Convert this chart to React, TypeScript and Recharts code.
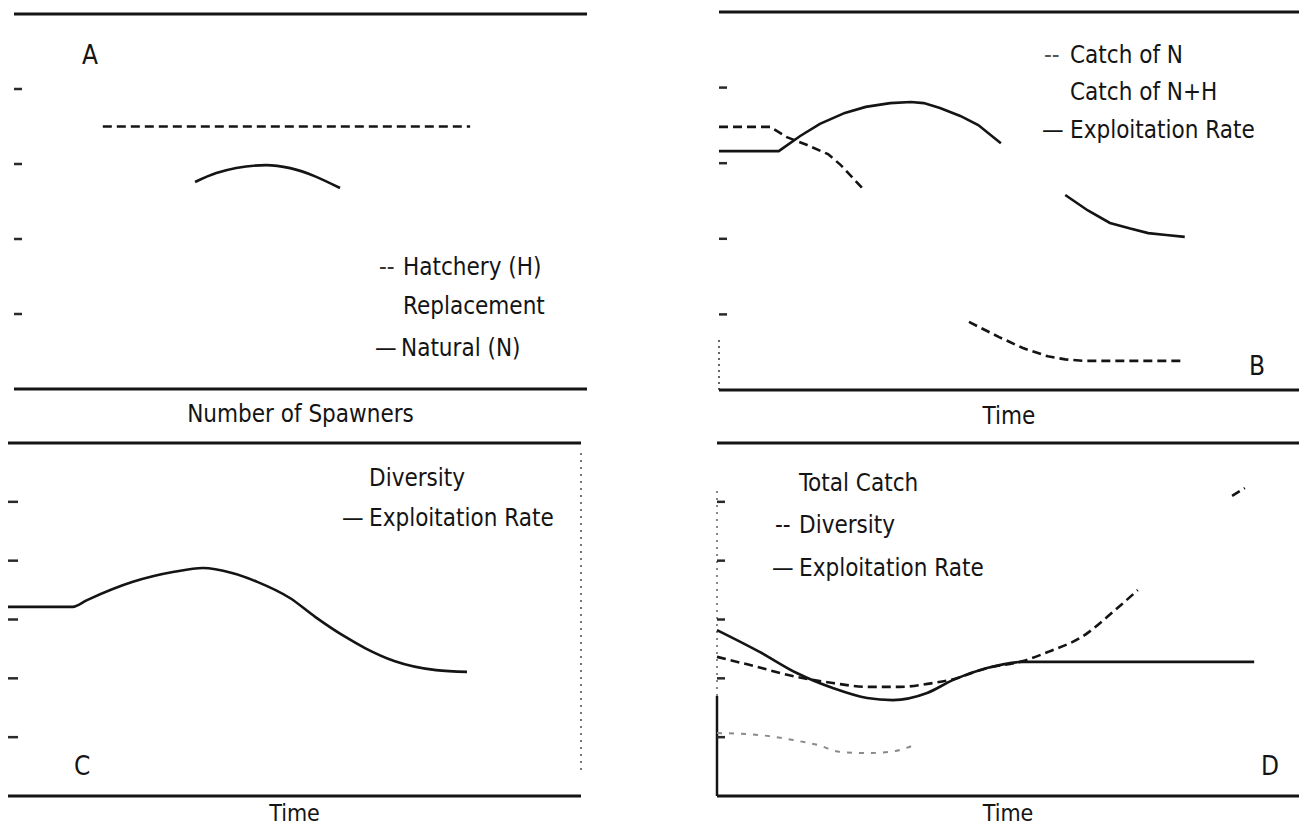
import React from 'react';
import { LineChart, Line, XAxis, YAxis, ReferenceLine } from 'recharts';

const FONT = "'DejaVu Sans Condensed', 'DejaVu Sans', sans-serif";
const INK = '#141414';

// ---------- Panel A : replacement vs number of spawners ----------
const aHatchery = [{ x: 15.5, y: 70 }, { x: 79.6, y: 70 }];
const aNatural = [
  { x: 31.6, y: 55.2 }, { x: 35.3, y: 57.6 }, { x: 44.0, y: 59.7 },
  { x: 48.2, y: 58.9 }, { x: 56.9, y: 53.6 },
];
const aTicks = [20, 40, 60, 80];

// ---------- Panel B : catch & exploitation rate over time ----------
const bCatchN = [
  { x: 0, y: 69.6 }, { x: 8.8, y: 69.6 }, { x: 11.7, y: 66.9 }, { x: 15.2, y: 64.8 },
  { x: 18.8, y: 62.4 }, { x: 21.0, y: 59.5 }, { x: 25.0, y: 52.9 }, { x: 35, y: null },
  { x: 43.1, y: 18.0 }, { x: 48.3, y: 14.0 }, { x: 52.4, y: 11.1 }, { x: 56.7, y: 8.9 },
  { x: 59.7, y: 8.1 }, { x: 63.1, y: 7.7 }, { x: 79.7, y: 7.7 },
];
const bExploit = [
  { x: 0, y: 63.2 }, { x: 10.3, y: 63.2 }, { x: 14.0, y: 67.2 }, { x: 17.4, y: 70.4 },
  { x: 21.7, y: 73.3 }, { x: 25.3, y: 74.9 }, { x: 29.5, y: 75.9 }, { x: 33.1, y: 76.2 },
  { x: 35.3, y: 75.9 }, { x: 38.1, y: 74.6 }, { x: 41.6, y: 72.5 }, { x: 44.7, y: 70.1 },
  { x: 48.6, y: 65.3 }, { x: 53, y: null }, { x: 59.7, y: 51.6 }, { x: 63.6, y: 47.5 },
  { x: 67.4, y: 44.2 }, { x: 70.9, y: 42.7 }, { x: 74.0, y: 41.5 }, { x: 77.1, y: 41.0 },
  { x: 80.3, y: 40.5 },
];
const bTicks = [20, 40, 60, 80];

// ---------- Panel C : diversity / exploitation rate over time ----------
const cExploit = [
  { x: 0, y: 64.3 }, { x: 11.3, y: 64.3 }, { x: 13.8, y: 66.6 }, { x: 21.8, y: 72.8 },
  { x: 29.0, y: 76.2 }, { x: 34.0, y: 77.5 }, { x: 39.1, y: 75.8 }, { x: 43.5, y: 72.8 },
  { x: 49.2, y: 67.3 }, { x: 53.6, y: 60.9 }, { x: 58.6, y: 54.4 }, { x: 62.3, y: 50.3 },
  { x: 67.4, y: 45.9 }, { x: 74.7, y: 42.8 }, { x: 80.1, y: 42.2 },
];
const cTicks = [20, 40, 60, 80, 100];

// ---------- Panel D : total catch, diversity, exploitation rate ----------
const dExploit = [
  { x: 0, y: 56.4 }, { x: 7.4, y: 48.9 }, { x: 13.7, y: 41.8 }, { x: 19.9, y: 36.7 },
  { x: 25.8, y: 33.3 }, { x: 30.2, y: 32.6 }, { x: 36.1, y: 35.0 }, { x: 40.5, y: 39.4 },
  { x: 46.4, y: 43.5 }, { x: 52.6, y: 45.6 }, { x: 92.3, y: 45.6 },
];
const dDiversity = [
  { x: 0, y: 47.3 }, { x: 5.7, y: 44.5 }, { x: 13.7, y: 40.5 }, { x: 19.9, y: 38.4 },
  { x: 25.8, y: 37.1 }, { x: 31.4, y: 37.1 }, { x: 37.1, y: 38.4 }, { x: 40.0, y: 39.4 },
  { x: 46.4, y: 43.5 }, { x: 52.6, y: 45.9 }, { x: 56.9, y: 49.0 }, { x: 62.7, y: 54.1 },
  { x: 68.4, y: 63.2 }, { x: 72.3, y: 70.0 }, { x: 80, y: null },
  { x: 88.5, y: 102.0 }, { x: 90.7, y: 104.7 },
];
const dTotalCatch = [
  { x: 0, y: 21.4 }, { x: 7.4, y: 20.7 }, { x: 13.1, y: 19.0 }, { x: 17.4, y: 17.3 },
  { x: 21.1, y: 15.0 }, { x: 25.8, y: 14.6 }, { x: 29.7, y: 15.0 }, { x: 34.4, y: 17.7 },
];
const dTicks = [20, 40, 60, 80, 100];

// ---------- texts ----------
const panelLetters = ['A', 'B', 'C', 'D'];
const axisTitles = ['Number of Spawners', 'Time', 'Time', 'Time'];
const aLegend = ['Hatchery (H)', 'Replacement', 'Natural (N)'];
const bLegend = ['Catch of N', 'Catch of N+H', 'Exploitation Rate'];
const cLegend = ['Diversity', 'Exploitation Rate'];
const dLegend = ['Total Catch', 'Diversity', 'Exploitation Rate'];

const ruleLine = { stroke: INK, strokeWidth: 3 };
const solid = { stroke: INK, strokeWidth: 2.6, dot: false, isAnimationActive: false, type: 'monotone' as const, connectNulls: false };
const dashed = { ...solid, strokeDasharray: '9 5' };

function T({ x, yc, children, size = 24, color = INK }: { x: number; yc: number; children: React.ReactNode; size?: number; color?: string }) {
  return (
    <div
      style={{
        position: 'absolute', left: x, top: yc - size / 2, fontSize: size, lineHeight: `${size}px`,
        fontFamily: FONT, fontStretch: 'condensed', whiteSpace: 'nowrap', color,
      }}
    >
      {children}
    </div>
  );
}

function makeTickMark(len: number) {
  return (props: any) => {
    const { x, y } = props;
    return <line x1={x - len} x2={x} y1={y} y2={y} stroke="#2a2a2a" strokeWidth={2.5} />;
  };
}

function Panel({
  left, top, width, height, margin, yMax, yTicks, title, labelOffset, labelSize = 24, tickSize = 8, children,
}: {
  left: number; top: number; width: number; height: number;
  margin: { top: number; right: number; bottom: number; left: number };
  yMax: number; yTicks: number[]; title: string; labelOffset: number; labelSize?: number; tickSize?: number;
  children: React.ReactNode;
}) {
  return (
    <div style={{ position: 'absolute', left, top }}>
      <LineChart width={width} height={height} margin={margin}>
        <XAxis
          dataKey="x" type="number" domain={[0, 100]} height={10}
          tick={false} tickLine={false} axisLine={ruleLine}
          label={{ value: title, position: 'bottom', offset: labelOffset, style: { fontFamily: FONT, fontStretch: 'condensed', fontSize: labelSize, fill: INK } }}
        />
        <YAxis
          type="number" domain={[0, yMax]} ticks={yTicks} mirror width={1}
          axisLine={false} tickLine={false} tickSize={tickSize} tickMargin={0}
          tick={makeTickMark(tickSize)}
        />
        <ReferenceLine y={yMax} stroke={INK} strokeWidth={3} />
        {children}
      </LineChart>
    </div>
  );
}

export default function App() {
  return (
    <div style={{ position: 'absolute', left: 0, top: 0, width: 1299, height: 828, background: '#fff', overflow: 'hidden' }}>
      {/* Panel A */}
      <Panel left={0} top={0} width={600} height={440} margin={{ top: 14, right: 13, bottom: 41, left: 14 }}
        yMax={100} yTicks={aTicks} title={axisTitles[0]} labelOffset={6}>
        <Line data={aHatchery} dataKey="y" name={aLegend[0]} {...dashed} />
        <Line data={aNatural} dataKey="y" name={aLegend[2]} {...solid} />
      </Panel>

      {/* Panel B */}
      <Panel left={700} top={0} width={599} height={440} margin={{ top: 12, right: 0, bottom: 40, left: 19 }}
        yMax={100} yTicks={bTicks} title={axisTitles[1]} labelOffset={7}>
        <ReferenceLine segment={[{ x: 0, y: 0 }, { x: 0, y: 14 }]} stroke="#666" strokeWidth={2} strokeDasharray="2 4" />
        <Line data={bCatchN} dataKey="y" name={bLegend[0]} {...dashed} type="linear" />
        <Line data={bExploit} dataKey="y" name={bLegend[2]} {...solid} type="linear" />
      </Panel>

      {/* Panel C */}
      <Panel left={0} top={430} width={600} height={398} margin={{ top: 13, right: 19, bottom: 22, left: 8 }}
        yMax={120} yTicks={cTicks} title={axisTitles[2]} labelOffset={-1.5} labelSize={23} tickSize={10}>
        <ReferenceLine segment={[{ x: 100, y: 8.8 }, { x: 100, y: 117.6 }]} stroke="#777" strokeWidth={2} strokeDasharray="2 5" />
        <Line data={cExploit} dataKey="y" name={cLegend[1]} {...solid} />
      </Panel>

      {/* Panel D */}
      <Panel left={700} top={430} width={599} height={398} margin={{ top: 13, right: 0, bottom: 22, left: 17 }}
        yMax={120} yTicks={dTicks} title={axisTitles[3]} labelOffset={-1.5} labelSize={23}>
        <ReferenceLine segment={[{ x: 0, y: 34 }, { x: 0, y: 104 }]} stroke="#888" strokeWidth={2} strokeDasharray="2 5" />
        <ReferenceLine segment={[{ x: 0, y: 0 }, { x: 0, y: 34 }]} stroke={INK} strokeWidth={2.5} />
        <Line data={dTotalCatch} dataKey="y" name={dLegend[0]} {...solid} stroke="#8a8a8a" strokeWidth={2} strokeDasharray="5 7" />
        <Line data={dDiversity} dataKey="y" name={dLegend[1]} {...dashed} />
        <Line data={dExploit} dataKey="y" name={dLegend[2]} {...solid} />
      </Panel>

      {/* panel letters */}
      <T x={82} yc={55} size={26}>{panelLetters[0]}</T>
      <T x={1249} yc={366} size={26}>{panelLetters[1]}</T>
      <T x={74} yc={766} size={26}>{panelLetters[2]}</T>
      <T x={1261} yc={766} size={26}>{panelLetters[3]}</T>

      {/* legend A */}
      <T x={379} yc={267} color="#333">--</T>
      <T x={403} yc={267}>{aLegend[0]}</T>
      <T x={403} yc={306}>{aLegend[1]}</T>
      <T x={375} yc={348}>—</T>
      <T x={401} yc={348}>{aLegend[2]}</T>

      {/* legend B */}
      <T x={1044} yc={55} color="#555">--</T>
      <T x={1070} yc={55}>{bLegend[0]}</T>
      <T x={1070} yc={92}>{bLegend[1]}</T>
      <T x={1042} yc={130}>—</T>
      <T x={1070} yc={130}>{bLegend[2]}</T>

      {/* legend C */}
      <T x={369} yc={478}>{cLegend[0]}</T>
      <T x={342} yc={518}>—</T>
      <T x={369} yc={518}>{cLegend[1]}</T>

      {/* legend D */}
      <T x={799} yc={483}>{dLegend[0]}</T>
      <T x={775} yc={525}>--</T>
      <T x={799} yc={525}>{dLegend[1]}</T>
      <T x={772} yc={568}>—</T>
      <T x={799} yc={568}>{dLegend[2]}</T>
    </div>
  );
}
